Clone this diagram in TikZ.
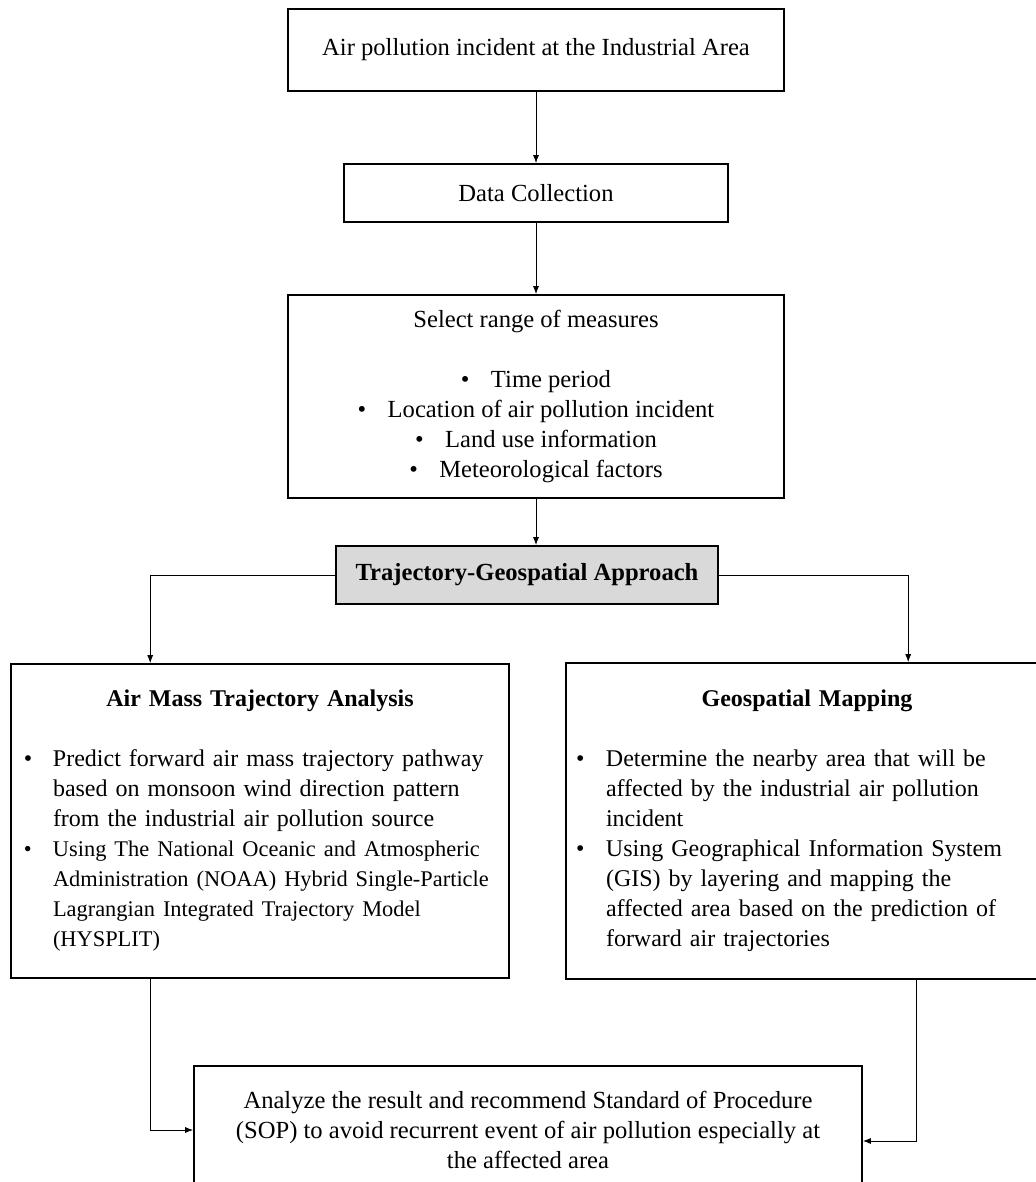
\documentclass[tikz,border=0pt]{standalone}
\usepackage{fontspec}
\setmainfont{Liberation Serif}
\usetikzlibrary{arrows.meta}
\newcommand{\bitem}[2][14.5pt]{\par\noindent\hangindent=#1\hangafter=1\makebox[#1][l]{\textbullet}#2\par}
\newcommand{\cbullet}{\makebox[15pt][l]{\textbullet}}

\begin{document}
\begin{tikzpicture}[x=0.5pt,y=-0.5pt,
		box/.style={draw, line width=0.8pt, rectangle, inner sep=0pt, font=\fontsize{12.3pt}{15pt}\selectfont},
		listbox/.style={box, align=left, font=\fontsize{12pt}{15pt}\selectfont},
		conn/.style={line width=0.5pt, -{Latex[length=4pt,width=3pt]}}]
		\useasboundingbox (0,0) rectangle (1036,1182);
		\node[box, align=center, minimum width=248pt, minimum height=41pt] (incident) at (536,50) {Air pollution incident at the Industrial Area};
		\node[box, align=center, minimum width=192pt, minimum height=29pt] (collect) at (536,193) {Data Collection};
		\node[box, align=center, minimum width=248pt, minimum height=101.5pt] (measures) at (536,396.5) {Select range of measures\\[15pt]
			\cbullet Time period\\
			\cbullet Location of air pollution incident\\
			\cbullet Land use information\\
			\cbullet Meteorological factors};
		\node[box, align=center, fill=gray!30, minimum width=191pt, minimum height=29pt] (approach) at (527,575) {\bfseries Trajectory-Geospatial Approach};
		
		\node[listbox, text width=236pt, minimum width=249pt, minimum height=157pt] (mass) at (260,821) {%
			{\centering\bfseries Air Mass Trajectory Analysis\par}\vspace{15pt}%
			\bitem{\mbox{Predict forward air mass trajectory pathway}\newline
				\mbox{based on monsoon wind direction pattern}\newline
				\mbox{from the industrial air pollution source}}%
			{\fontsize{11.2pt}{15pt}\selectfont
			\bitem{\mbox{Using The National Oceanic and Atmospheric}\newline
				\mbox{Administration (NOAA) Hybrid Single-Particle}\newline
				\mbox{Lagrangian Integrated Trajectory Model}\newline
				\mbox{(HYSPLIT)}}}};
		\node[listbox, text width=231pt, minimum width=241pt, minimum height=158pt] (gmap) at (807,821) {%
			{\centering\bfseries Geospatial Mapping\par}\vspace{15pt}%
			\bitem[15pt]{\mbox{Determine the nearby area that will be}\newline
				\mbox{affected by the industrial air pollution}\newline
				\mbox{incident}}%
			\bitem[15pt]{\mbox{Using Geographical Information System}\newline
				\mbox{(GIS) by layering and mapping the}\newline
				\mbox{affected area based on the prediction of}\newline
				\mbox{forward air trajectories}}};
		
		\node[box, align=center, minimum width=334pt, minimum height=64pt] (sop) at (528,1130) {Analyze the result and recommend Standard of Procedure\\
			(SOP) to avoid recurrent event of air pollution especially at\\
			the affected area};
		
		\draw[conn] (incident) -- (collect);
		\draw[conn] (collect) -- (measures);
		\draw[conn] (measures.south) -- (measures.south |- approach.north);
		\draw[conn] (approach.west) -| ([xshift=70pt]mass.north west);
		\draw[conn] (approach.east) -| ([xshift=171.5pt]gmap.north west);
		\draw[conn] ([xshift=70pt]mass.south west) |- (sop.west);
		\draw[conn] ([xshift=175.5pt]gmap.south west) |- ([yshift=-5.5pt]sop.east);
	\end{tikzpicture}
\end{document}
